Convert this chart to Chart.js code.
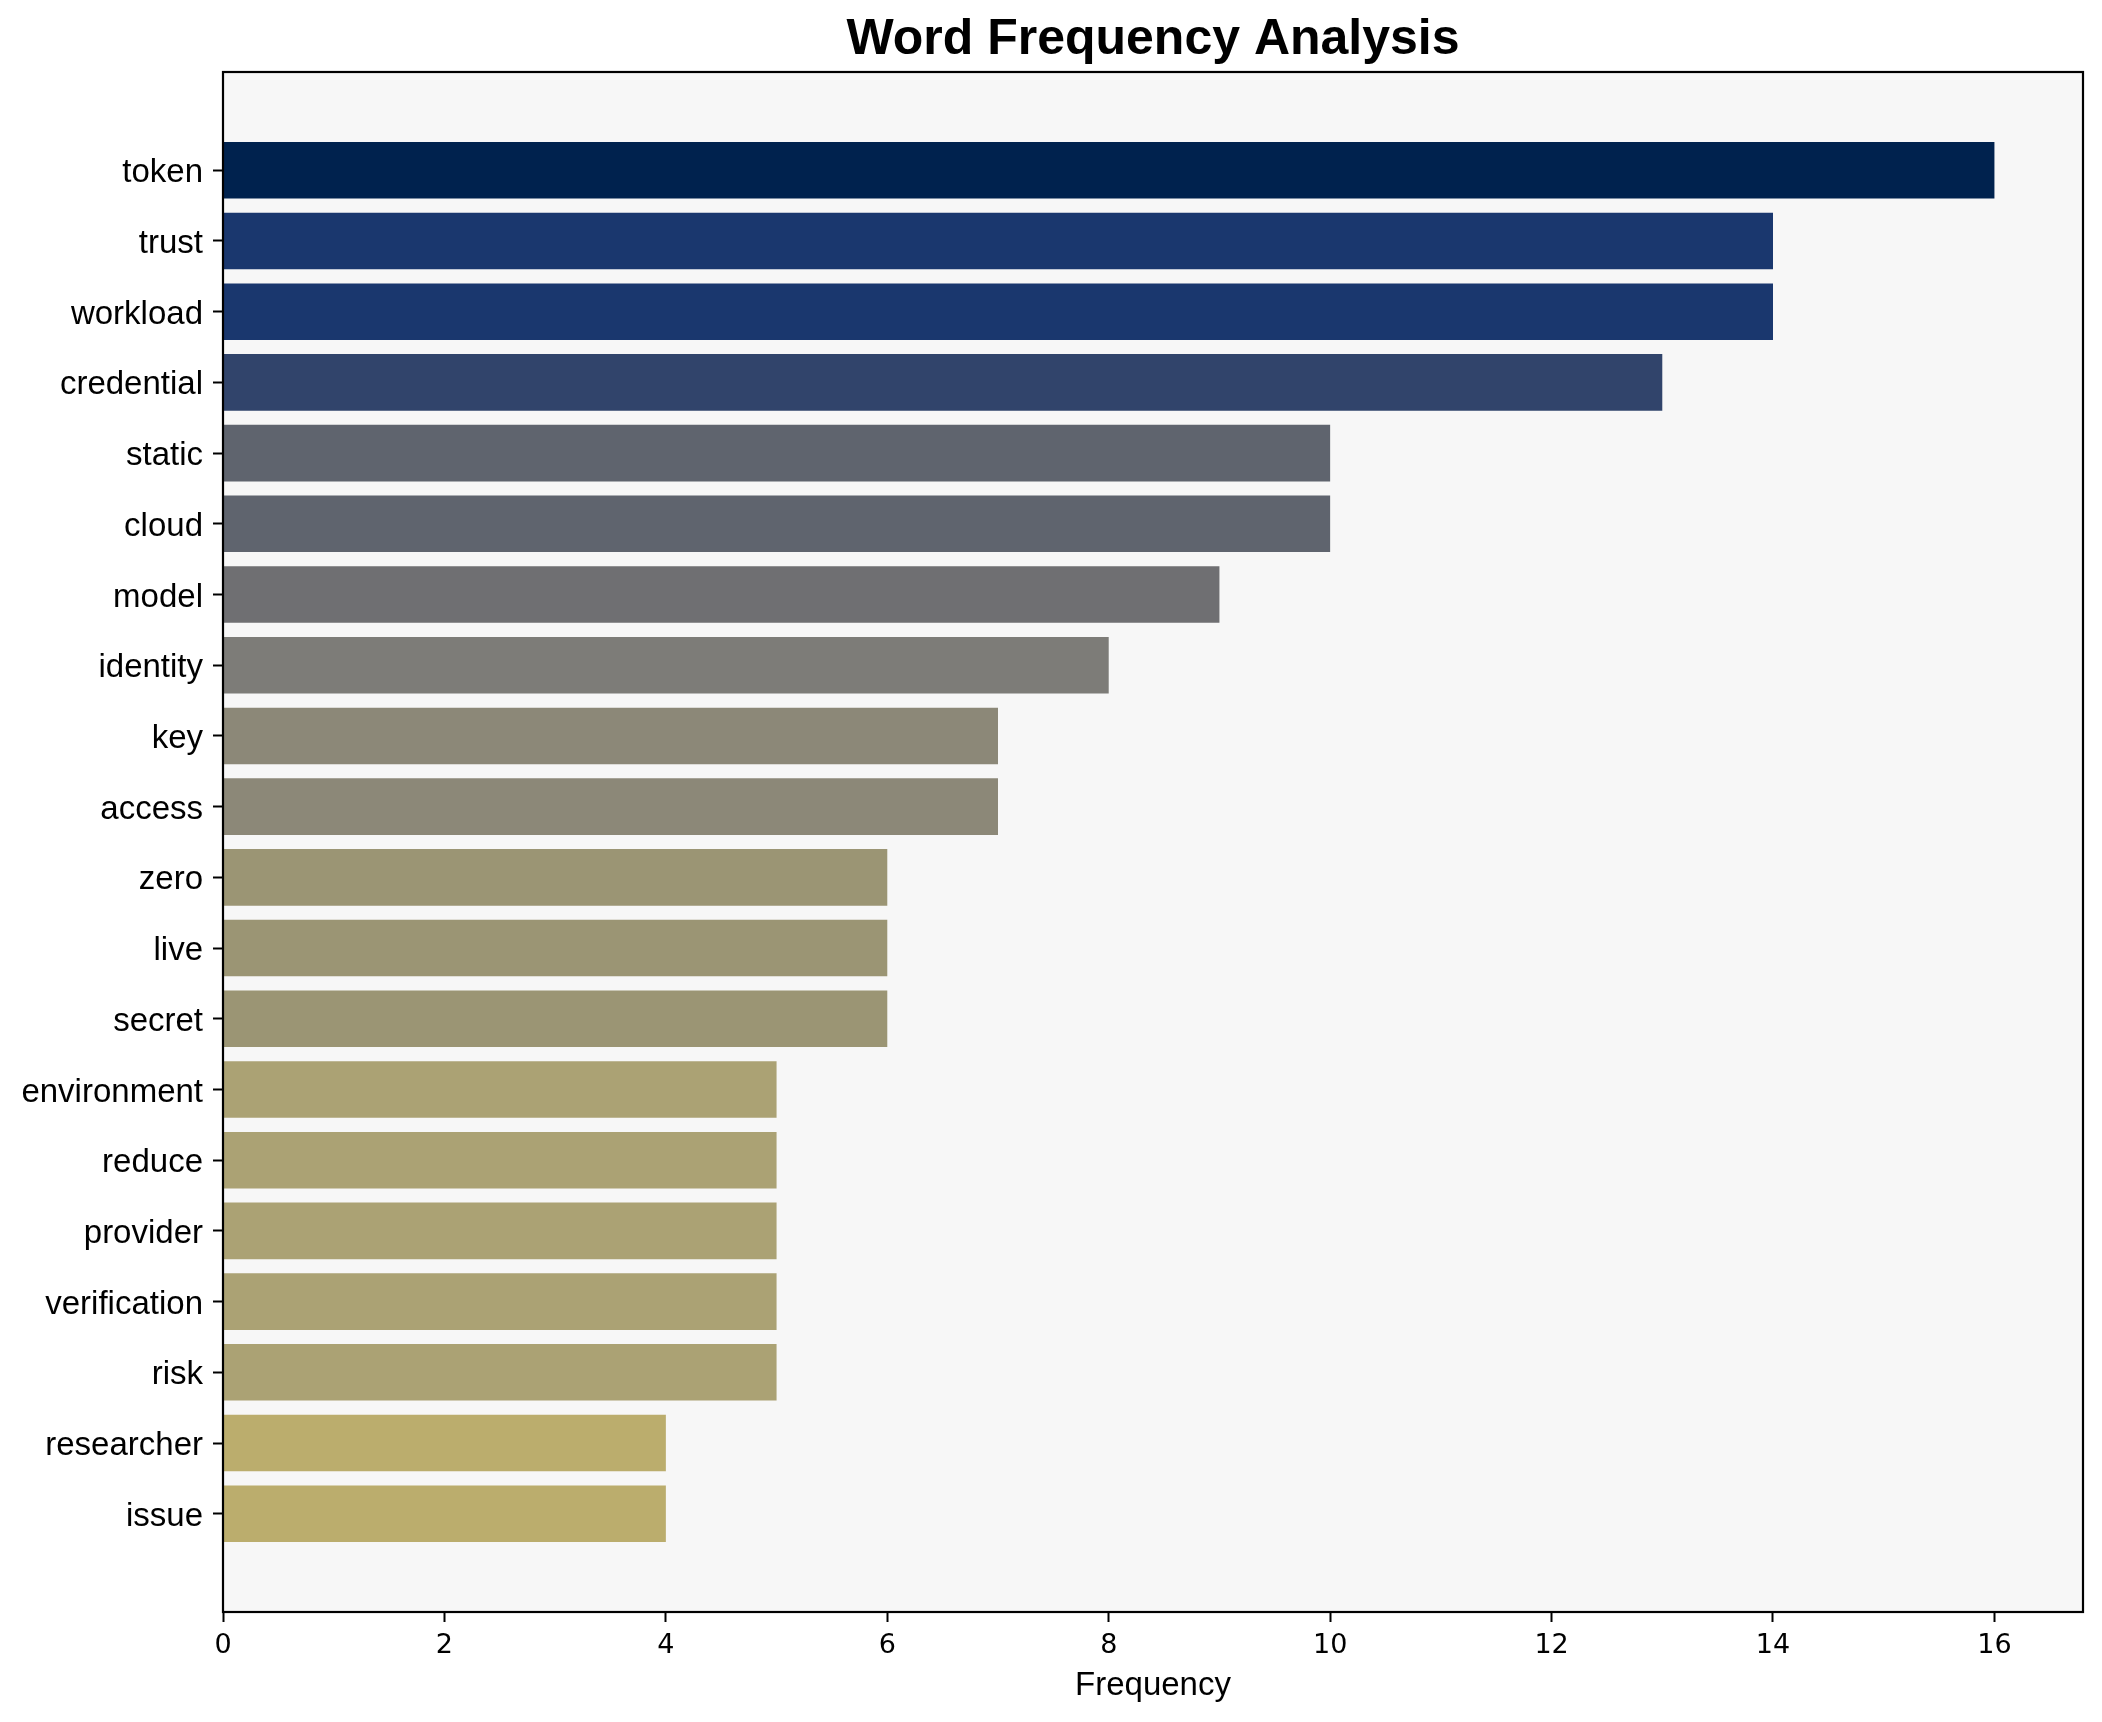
<!DOCTYPE html>
<html>
<head>
<meta charset="utf-8">
<script src="https://cdn.jsdelivr.net/npm/chart.js@4/dist/chart.umd.min.js"></script>
<style>
  html, body { margin: 0; padding: 0; background: #ffffff; }
  #wrap { width: 2102px; height: 1722px; position: relative; }
</style>
</head>
<body>
<div id="wrap"><canvas id="c" width="2102" height="1722"></canvas></div>
<script>
const words = ["token", "trust", "workload", "credential", "static", "cloud", "model", "identity", "key", "access",
  "zero", "live", "secret", "environment", "reduce", "provider", "verification", "risk", "researcher", "issue"];
const frequencies = [16, 14, 14, 13, 10, 10, 9, 8, 7, 7, 6, 6, 6, 5, 5, 5, 5, 5, 4, 4];
const xTickValues = [0, 2, 4, 6, 8, 10, 12, 14, 16];

const barColors = ["#00224e", "#1a376e", "#1a376e", "#31446b", "#5f646e", "#5f646e", "#6f6f72", "#7d7c78",
  "#8c8878", "#8c8878", "#9b9574", "#9b9574", "#9b9574", "#aba274", "#aba274", "#aba274", "#aba274", "#aba274",
  "#bbad6d", "#bbad6d"];

const FONT = "'Liberation Sans', Arial, Helvetica, sans-serif";
const NUMFONT = "'DejaVu Sans', sans-serif";

const framePlugin = {
  id: 'frame',
  beforeDraw(chart) {
    const a = chart.chartArea, ctx = chart.ctx;
    ctx.save();
    ctx.fillStyle = '#f7f7f7';
    ctx.fillRect(a.left, a.top, a.right - a.left, a.bottom - a.top);
    ctx.restore();
  },
  afterLayout(chart) {
    const t = chart.titleBlock;
    if (t) {
      t.left = chart.chartArea.left;
      t.right = chart.chartArea.right;
      t.width = t.right - t.left;
    }
  },
  afterDraw(chart) {
    const a = chart.chartArea, ctx = chart.ctx;
    ctx.save();
    ctx.strokeStyle = '#000000';
    ctx.lineWidth = 2.2;
    ctx.strokeRect(a.left, a.top, a.right - a.left, a.bottom - a.top);
    ctx.restore();
  }
};

new Chart(document.getElementById('c'), {
  type: 'bar',
  data: {
    datasets: [{
      data: frequencies.map((v, i) => ({ x: v, y: i })),
      backgroundColor: barColors,
      borderWidth: 0,
      barPercentage: 0.8,
      categoryPercentage: 1.0
    }]
  },
  options: {
    indexAxis: 'y',
    responsive: false,
    animation: false,
    devicePixelRatio: 1,
    layout: { padding: { left: 0, right: 19, top: 0, bottom: 0 } },
    plugins: {
      legend: { display: false },
      tooltip: { enabled: false },
      title: {
        display: true,
        text: 'Word Frequency Analysis',
        color: '#000000',
        font: { family: FONT, size: 50, weight: 'bold', lineHeight: 1.2 },
        padding: { top: 10, bottom: 2 }
      }
    },
    scales: {
      x: {
        type: 'linear',
        min: 0,
        max: 16.8,
        afterBuildTicks: (scale) => { scale.ticks = xTickValues.map(v => ({ value: v })); },
        afterFit: (scale) => { scale.height = 110; },
        ticks: {
          color: '#000000',
          font: { family: NUMFONT, size: 27 },
          padding: 8,
          maxRotation: 0,
          autoSkip: false
        },
        grid: { drawOnChartArea: false, drawTicks: true, tickLength: 10, tickColor: '#000000', tickWidth: 2 },
        border: { display: true, color: '#000000', width: 2 },
        title: {
          display: true,
          text: 'Frequency',
          color: '#000000',
          font: { family: FONT, size: 33 },
          padding: { top: 4, bottom: 16 }
        }
      },
      y: {
        type: 'linear',
        reverse: true,
        offset: false,
        min: -1.39,
        max: 20.39,
        afterBuildTicks: (scale) => { scale.ticks = words.map((_, i) => ({ value: i })); },
        afterFit: (scale) => { scale.width = 223; },
        ticks: {
          color: '#000000',
          font: { family: FONT, size: 33 },
          padding: 10,
          labelOffset: 3,
          autoSkip: false,
          callback: (v) => words[v]
        },
        grid: { offset: false, drawOnChartArea: false, drawTicks: true, tickLength: 10, tickColor: '#000000', tickWidth: 2 },
        border: { display: true, color: '#000000', width: 2 }
      }
    }
  },
  plugins: [framePlugin]
});
</script>
</body>
</html>
